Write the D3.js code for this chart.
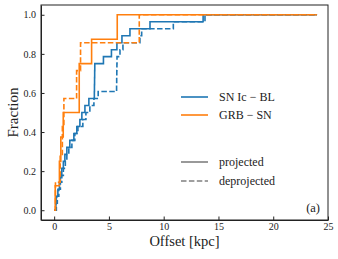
<!DOCTYPE html>
<html lang="en">
<head>
<meta charset="utf-8">
<style>
body {
  margin: 0;
  background: #fff;
}
text {
  font-family: "Liberation Serif", "Times New Roman", "DejaVu Serif", serif;
  fill: #222;
}
.axis path, .axis line {
  stroke: #222;
}
</style>
</head>
<body>
<script src="https://cdn.jsdelivr.net/npm/d3@7"></script>
<script>

// sorted offsets (kpc), one step per object
var icblProjected = [0.16, 0.20, 0.34, 0.48, 0.57, 0.70, 0.84, 0.98, 1.16, 1.43,
    1.80, 2.07, 2.35, 2.53, 2.81, 3.17, 3.67, 3.68, 3.69, 3.70, 3.71,
    4.50, 5.23, 5.73, 6.19, 6.92, 8.75, 13.6];
var icblDeprojected = [0.20, 0.29, 0.43, 0.57, 0.70, 0.84, 1.02, 1.16, 1.34, 1.62,
    1.89, 2.17, 2.62, 2.90, 3.26, 3.63, 4.02, 5.70, 5.71, 5.72, 5.73, 5.74,
    6.01, 6.28, 7.83, 7.99, 10.88, 13.77];
var grbProjected = [0.10, 0.48, 0.61, 0.83, 2.29, 2.29, 3.42, 5.76];
var grbDeprojected = [0.12, 0.55, 0.75, 0.89, 2.05, 2.41, 7.77];

var xTicks = [0, 5, 10, 15, 20, 25];
var yTicks = [0.0, 0.2, 0.4, 0.6, 0.8, 1.0];
var xEnd = 24;

var series = [
    {name: "icbl", values: icblProjected, color: "#1f77b4", dashed: false},
    {name: "grb", values: grbProjected, color: "#ff7f0e", dashed: false},
    {name: "icbl", values: icblDeprojected, color: "#1f77b4", dashed: true},
    {name: "grb", values: grbDeprojected, color: "#ff7f0e", dashed: true}
];

var width = 338,
    height = 259;
var margin = {left: 41, right: 10, top: 5, bottom: 39};

var x = d3.scaleLinear()
    .domain([-1.2, 25])
    .range([margin.left, width - margin.right]);

var y = d3.scaleLinear()
    .domain([-0.05, 1.05])
    .range([height - margin.bottom, margin.top]);

var svg = d3.select("body").append("svg")
    .attr("width", width)
    .attr("height", height);

// cumulative points, step after each value
function cdf(vals) {
    var n = vals.length;
    var pts = [[0, 0]];
    vals.forEach(function(v, i) { pts.push([v, (i + 1) / n]); });
    pts.push([xEnd, 1]);
    return pts;
}

var line = d3.line()
    .x(function(d) { return x(d[0]); })
    .y(function(d) { return y(d[1]); })
    .curve(d3.curveStepAfter);

svg.append("g").selectAll("path")
    .data(series)
    .enter().append("path")
    .attr("d", function(d) { return line(cdf(d.values)); })
    .attr("fill", "none")
    .attr("stroke", function(d) { return d.color; })
    .attr("stroke-width", 1.6)
    .attr("stroke-dasharray", function(d) { return d.dashed ? "5.5,2.4" : null; });

// axes, ticks inward
svg.append("g")
    .attr("class", "axis")
    .attr("transform", "translate(0," + (height - margin.bottom) + ")")
    .call(d3.axisBottom(x).tickValues(xTicks).tickFormat(d3.format("d"))
        .tickSizeInner(-3.5).tickSizeOuter(0).tickPadding(2.5));

svg.append("g")
    .attr("class", "axis")
    .attr("transform", "translate(" + margin.left + ",0)")
    .call(d3.axisLeft(y).tickValues(yTicks).tickFormat(d3.format(".1f"))
        .tickSizeInner(-3.5).tickSizeOuter(0).tickPadding(5));

svg.selectAll(".axis text")
    .style("font-family", "'Liberation Serif', 'Times New Roman', serif")
    .style("font-size", "10px")
    .attr("fill", "#222");

// frame
svg.append("rect")
    .attr("x", margin.left)
    .attr("y", margin.top)
    .attr("width", width - margin.right - margin.left)
    .attr("height", height - margin.bottom - margin.top)
    .attr("fill", "none")
    .attr("stroke", "#222")
    .attr("stroke-width", 1);

svg.append("text")
    .attr("x", (margin.left + width - margin.right) / 2)
    .attr("y", 246)
    .attr("text-anchor", "middle")
    .style("font-size", "14.5px")
    .text("Offset [kpc]");

svg.append("text")
    .attr("transform", "translate(18," + ((margin.top + height - margin.bottom) / 2) + ") rotate(-90)")
    .attr("text-anchor", "middle")
    .style("font-size", "15px")
    .text("Fraction");

svg.append("text")
    .attr("x", 320)
    .attr("y", 212)
    .attr("text-anchor", "end")
    .style("font-size", "12.5px")
    .text("(a)");

// legends
var legend = [
    {label: "SN Ic \u2212 BL", color: "#1f77b4", dashed: false, y: 97},
    {label: "GRB \u2212 SN", color: "#ff7f0e", dashed: false, y: 115},
    {label: "projected", color: "#808080", dashed: false, y: 162},
    {label: "deprojected", color: "#808080", dashed: true, y: 181}
];

var lg = svg.append("g").selectAll("g")
    .data(legend)
    .enter().append("g")
    .attr("transform", function(d) { return "translate(181," + d.y + ")"; });

lg.append("line")
    .attr("x1", 0)
    .attr("x2", 27)
    .attr("stroke", function(d) { return d.color; })
    .attr("stroke-width", 1.6)
    .attr("stroke-dasharray", function(d) { return d.dashed ? "5.5,2.4" : null; });

lg.append("text")
    .attr("x", 38)
    .attr("y", 4)
    .style("font-size", "12px")
    .text(function(d) { return d.label; });

</script>
</body>
</html>
